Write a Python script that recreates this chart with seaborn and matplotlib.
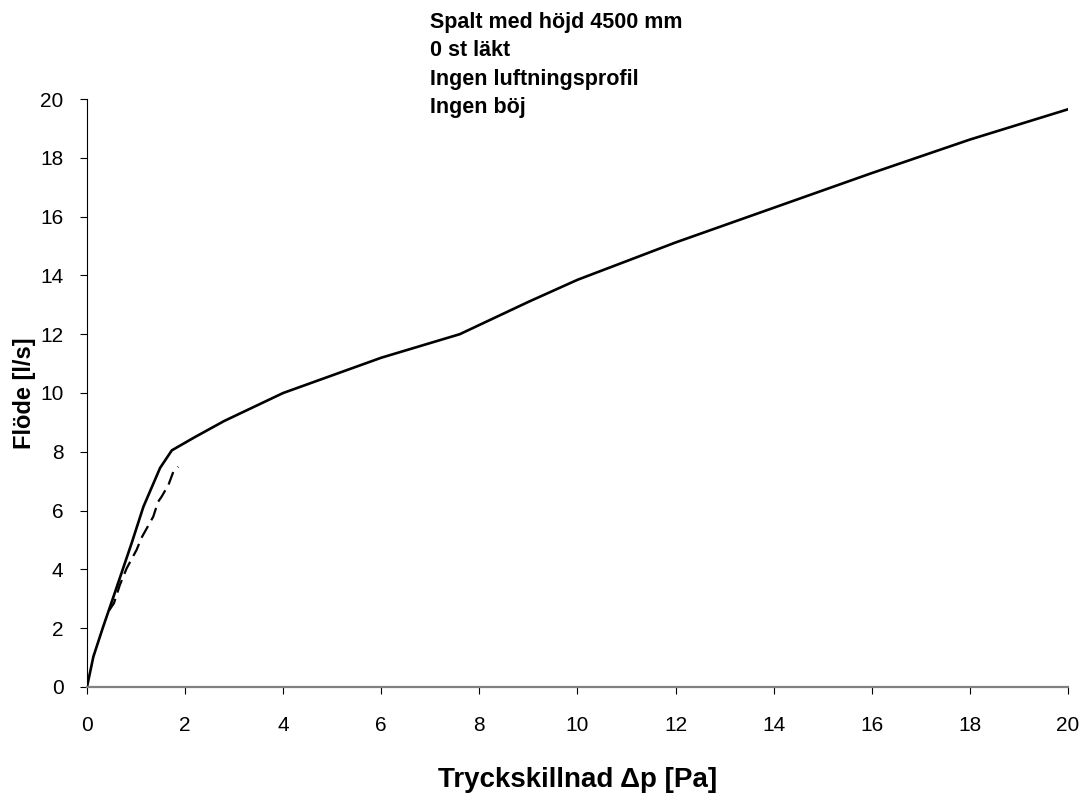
import matplotlib
matplotlib.use("Agg")
import matplotlib.pyplot as plt
import seaborn as sns
import pandas as pd

# Data
solid_x = [0.0, 0.13, 0.33, 0.54, 0.91, 1.15, 1.49, 1.73, 2.2, 2.8, 4.0, 6.0, 7.6, 9.0, 10.0, 12.0, 14.0, 16.0, 18.0, 20.0]
solid_y = [0.0, 1.03, 2.05, 3.07, 4.89, 6.13, 7.45, 8.05, 8.5, 9.05, 10.0, 11.2, 12.0, 13.1, 13.85, 15.12, 16.3, 17.48, 18.62, 19.65]

dash_x = [0.45, 0.55, 0.67, 0.81, 1.01, 1.11, 1.35, 1.45, 1.52, 1.66, 1.76, 1.86]
dash_y = [2.6, 2.85, 3.47, 4.04, 4.66, 5.07, 5.79, 6.3, 6.47, 6.87, 7.32, 7.49]

x_ticks = [0, 2, 4, 6, 8, 10, 12, 14, 16, 18, 20]
y_ticks = [0, 2, 4, 6, 8, 10, 12, 14, 16, 18, 20]

info_lines = ["Spalt med höjd 4500 mm", "0 st läkt", "Ingen luftningsprofil", "Ingen böj"]
x_label = "Tryckskillnad \u0394p [Pa]"
y_label = "Flöde [l/s]"

sns.set_theme(style="white")
plt.rcParams['font.family'] = ['Liberation Sans', 'DejaVu Sans']
plt.rcParams['text.color'] = 'black'
plt.rcParams['axes.labelcolor'] = 'black'
plt.rcParams['xtick.color'] = 'black'
plt.rcParams['ytick.color'] = 'black'

fig = plt.figure(figsize=(10.86, 7.94), dpi=100)
ax = fig.add_axes([0.0801, 0.1348, 0.9033, 0.7405])

df_s = pd.DataFrame({"x": solid_x, "y": solid_y})
df_d = pd.DataFrame({"x": dash_x, "y": dash_y})
sns.lineplot(data=df_s, x="x", y="y", ax=ax, color="black", linewidth=1.9, sort=False)
sns.lineplot(data=df_d, x="x", y="y", ax=ax, color="black", linewidth=1.6, sort=False,
             linestyle=(0, (6, 3)))

ax.set_xlim(0, 20)
ax.set_ylim(0, 20)
ax.set_xticks(x_ticks)
ax.set_yticks(y_ticks)
ax.set_xticklabels([str(t) for t in x_ticks], fontsize=15)
ax.set_yticklabels([str(t) for t in y_ticks], fontsize=15)

for s in ["top", "right"]:
    ax.spines[s].set_visible(False)
ax.spines["left"].set_color("black")
ax.spines["left"].set_linewidth(0.8)
ax.spines["bottom"].set_color("#808080")
ax.spines["bottom"].set_linewidth(1.6)

ax.tick_params(axis="x", direction="out", length=5, width=0.8, color="black", pad=16, bottom=True)
ax.tick_params(axis="y", direction="out", length=5, width=0.8, color="black", pad=12, left=True)

ax.set_xlabel(x_label, fontsize=20, fontweight="bold", labelpad=23)
ax.set_ylabel(y_label, fontsize=17, fontweight="bold", labelpad=3)

for i, line in enumerate(info_lines):
    fig.text(430 / 1086, 1 - (28 + 28.5 * i) / 794, line, fontsize=15.5, fontweight="bold",
             ha="left", va="baseline")

fig.savefig("out.png", dpi=100)
